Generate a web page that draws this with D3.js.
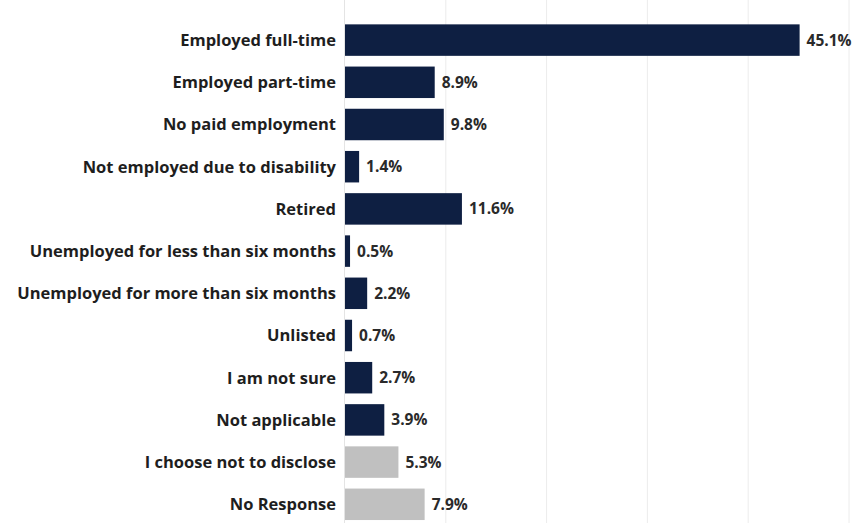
<!DOCTYPE html>
<html>
<head>
<meta charset="utf-8">
<script src="https://cdn.jsdelivr.net/npm/d3@7"></script>
<style>
  html, body { margin: 0; padding: 0; background: #fff; }
  svg text { font-family: "Open Sans", "Noto Sans", sans-serif; }
</style>
</head>
<body>
<svg id="chart" width="857" height="523"></svg>
<script>
// Employment status of respondents, share of all responses (%)
const categories = [
  "Employed full-time",
  "Employed part-time",
  "No paid employment",
  "Not employed due to disability",
  "Retired",
  "Unemployed for less than six months",
  "Unemployed for more than six months",
  "Unlisted",
  "I am not sure",
  "Not applicable",
  "I choose not to disclose",
  "No Response"
];
const values = [45.1, 8.9, 9.8, 1.4, 11.6, 0.5, 2.2, 0.7, 2.7, 3.9, 5.3, 7.9];
// Non-answers are shown in grey
const nonAnswer = ["I choose not to disclose", "No Response"];
const gridTicks = [10, 20, 30, 40, 50];

const svg = d3.select("#chart");
const plotLeft = 345, plotRight = 849;
const plotTop = 19, plotBottom = 525.4;

const x = d3.scaleLinear().domain([0, 50]).range([plotLeft, plotRight]);
const y = d3.scaleBand().domain(categories).range([plotTop, plotBottom])
  .paddingInner(0.254).paddingOuter(0.127);

// vertical gridlines
svg.append("g")
  .selectAll("line")
  .data(gridTicks)
  .join("line")
  .attr("x1", d => x(d)).attr("x2", d => x(d))
  .attr("y1", 0).attr("y2", 523)
  .attr("stroke", "#ececec")
  .attr("stroke-width", 1);

// baseline
svg.append("line")
  .attr("x1", x(0) - 0.5).attr("x2", x(0) - 0.5)
  .attr("y1", 0).attr("y2", 523)
  .attr("stroke", "#e4e4e4");

// bars
svg.append("g")
  .selectAll("rect")
  .data(categories)
  .join("rect")
  .attr("x", x(0))
  .attr("y", d => y(d))
  .attr("height", y.bandwidth())
  .attr("width", (d, i) => x(values[i]) - x(0))
  .attr("fill", d => nonAnswer.includes(d) ? "#c0c0c0" : "#0e1f42");

// category labels
svg.append("g")
  .selectAll("text")
  .data(categories)
  .join("text")
  .attr("x", plotLeft - 9)
  .attr("y", d => y(d) + y.bandwidth() / 2)
  .attr("dy", "0.36em")
  .attr("text-anchor", "end")
  .attr("font-size", 16.5)
  .attr("font-weight", 700)
  .attr("fill", "#1e1e1e")
  .text(d => d);

// value labels
svg.append("g")
  .selectAll("text")
  .data(categories)
  .join("text")
  .attr("x", (d, i) => x(values[i]) + 7)
  .attr("y", d => y(d) + y.bandwidth() / 2)
  .attr("dy", "0.36em")
  .attr("font-size", 15.5)
  .attr("font-weight", 700)
  .attr("fill", "#2a2a2a")
  .text((d, i) => values[i].toFixed(1) + "%");
</script>
</body>
</html>
